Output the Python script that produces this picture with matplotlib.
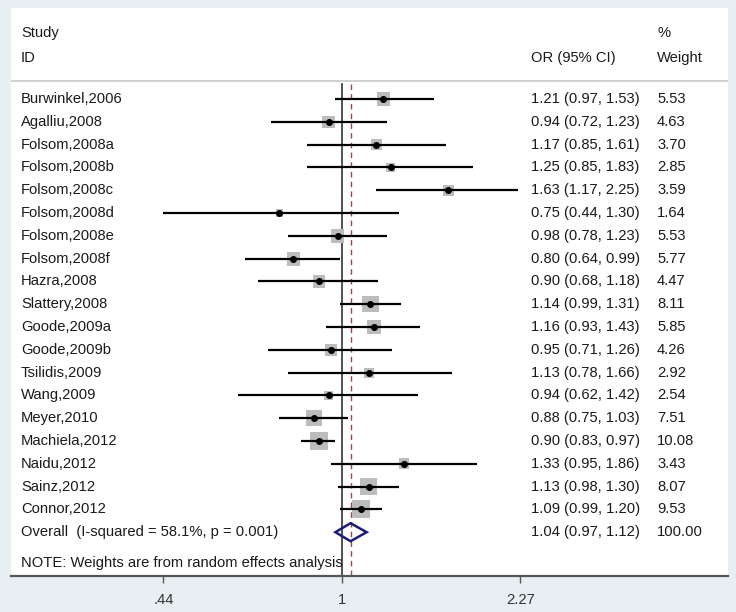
import numpy as np
import matplotlib
matplotlib.use("Agg")
import matplotlib.pyplot as plt
from matplotlib.patches import Polygon
from matplotlib.transforms import blended_transform_factory

studies = ["Burwinkel,2006", "Agalliu,2008", "Folsom,2008a", "Folsom,2008b", "Folsom,2008c",
           "Folsom,2008d", "Folsom,2008e", "Folsom,2008f", "Hazra,2008", "Slattery,2008",
           "Goode,2009a", "Goode,2009b", "Tsilidis,2009", "Wang,2009", "Meyer,2010",
           "Machiela,2012", "Naidu,2012", "Sainz,2012", "Connor,2012"]
or_vals = [1.21, 0.94, 1.17, 1.25, 1.63, 0.75, 0.98, 0.80, 0.90, 1.14,
           1.16, 0.95, 1.13, 0.94, 0.88, 0.90, 1.33, 1.13, 1.09]
ci_lo = [0.97, 0.72, 0.85, 0.85, 1.17, 0.44, 0.78, 0.64, 0.68, 0.99,
         0.93, 0.71, 0.78, 0.62, 0.75, 0.83, 0.95, 0.98, 0.99]
ci_hi = [1.53, 1.23, 1.61, 1.83, 2.25, 1.30, 1.23, 0.99, 1.18, 1.31,
         1.43, 1.26, 1.66, 1.42, 1.03, 0.97, 1.86, 1.30, 1.20]
weights = [5.53, 4.63, 3.70, 2.85, 3.59, 1.64, 5.53, 5.77, 4.47, 8.11,
           5.85, 4.26, 2.92, 2.54, 7.51, 10.08, 3.43, 8.07, 9.53]
overall_or, overall_lo, overall_hi = 1.04, 0.97, 1.12
overall_label = "Overall  (I-squared = 58.1%, p = 0.001)"
overall_weight = "100.00"
note = "NOTE: Weights are from random effects analysis"
xticks = [0.44, 1.0, 2.27]
xtick_labels = [".44", "1", "2.27"]

W, H = 736, 612
fig = plt.figure(figsize=(W / 100, H / 100), dpi=100)
fig.patch.set_facecolor("#e8eff3")
plt.rcParams['font.family'] = ['Liberation Sans', 'DejaVu Sans']

L, R, T, B = 11, 728, 8, 576
ax = fig.add_axes([L / W, (H - B) / H, (R - L) / W, (B - T) / H])
ax.set_facecolor("white")

# x scale: log, 1 at px 342, 217.5 px per ln unit
px_per = 217.5
x0 = 342
ax.set_xscale("log")
ax.set_xlim(np.exp((L - x0) / px_per), np.exp((R - x0) / px_per))
# y: row index, row i at px 99 + 22.8*i
y0, dy = 99.0, 22.8
ax.set_ylim((B - y0) / dy, (T - y0) / dy)

def row_of(px):
    return (px - y0) / dy

for s in ["top", "right", "left"]:
    ax.spines[s].set_visible(False)
ax.spines["bottom"].set_color("#555555")
ax.spines["bottom"].set_linewidth(1.6)
ax.set_yticks([])
ax.set_xticks(xticks)
ax.set_xticklabels(xtick_labels)
ax.xaxis.set_minor_locator(matplotlib.ticker.NullLocator())
ax.tick_params(axis="x", length=5, width=1, color="#555555", labelsize=10.6,
               labelcolor="#333333", pad=7)

txt_color = "#1a1a1a"
fs = 10.6
tr = blended_transform_factory(ax.transAxes, ax.transData)
xc_study = (21 - L) / (R - L)
xc_or = (531 - L) / (R - L)
xc_w = (657 - L) / (R - L)

# header
ax.text(xc_study, row_of(33), "Study", transform=tr, fontsize=fs, color=txt_color, va="center")
ax.text(xc_study, row_of(58), "ID", transform=tr, fontsize=fs, color=txt_color, va="center")
ax.text(xc_or, row_of(58), "OR (95% CI)", transform=tr, fontsize=fs, color=txt_color, va="center")
ax.text(xc_w, row_of(33), "%", transform=tr, fontsize=fs, color=txt_color, va="center")
ax.text(xc_w, row_of(58), "Weight", transform=tr, fontsize=fs, color=txt_color, va="center")
ax.axhline(row_of(81), color="#c8c8c8", lw=1.2)

n = len(studies)
ov_row = n
# reference lines
top_line = row_of(84)
ax.plot([1, 1], [top_line, (B - y0) / dy], color="#333333", lw=1.2, zorder=2)
ax.plot([overall_or, overall_or], [top_line, (B - y0) / dy], color="#a0464b", lw=1.0,
        dashes=(4, 3), zorder=2)

rows = np.arange(n)
for i in range(n):
    ax.plot([ci_lo[i], ci_hi[i]], [i, i], color="black", lw=1.6, zorder=4, solid_capstyle="butt")
ax.scatter(or_vals, rows, s=17.4 * np.array(weights), marker="s", color="#bcbcbc",
           edgecolors="none", zorder=3)
ax.scatter(or_vals, rows, s=16, marker="o", color="black", zorder=5)

for i in range(n):
    ax.text(xc_study, i, studies[i], transform=tr, fontsize=fs, color=txt_color, va="center")
    ax.text(xc_or, i, f"{or_vals[i]:.2f} ({ci_lo[i]:.2f}, {ci_hi[i]:.2f})", transform=tr,
            fontsize=fs, color=txt_color, va="center")
    ax.text(xc_w, i, f"{weights[i]:.2f}", transform=tr, fontsize=fs, color=txt_color, va="center")

hh = 9 / dy
diamond = Polygon([[overall_lo, ov_row], [overall_or, ov_row - hh], [overall_hi, ov_row],
                   [overall_or, ov_row + hh]], closed=True, fill=False,
                  edgecolor="#1c1c7a", lw=1.8, zorder=6)
ax.add_patch(diamond)
ax.text(xc_study, ov_row, overall_label, transform=tr, fontsize=fs, color=txt_color, va="center")
ax.text(xc_or, ov_row, f"{overall_or:.2f} ({overall_lo:.2f}, {overall_hi:.2f})", transform=tr,
        fontsize=fs, color=txt_color, va="center")
ax.text(xc_w, ov_row, overall_weight, transform=tr, fontsize=fs, color=txt_color, va="center")

ax.text(xc_study, row_of(563), note, transform=tr, fontsize=fs, color=txt_color, va="center")

fig.savefig("out.png", dpi=100, facecolor=fig.get_facecolor())
